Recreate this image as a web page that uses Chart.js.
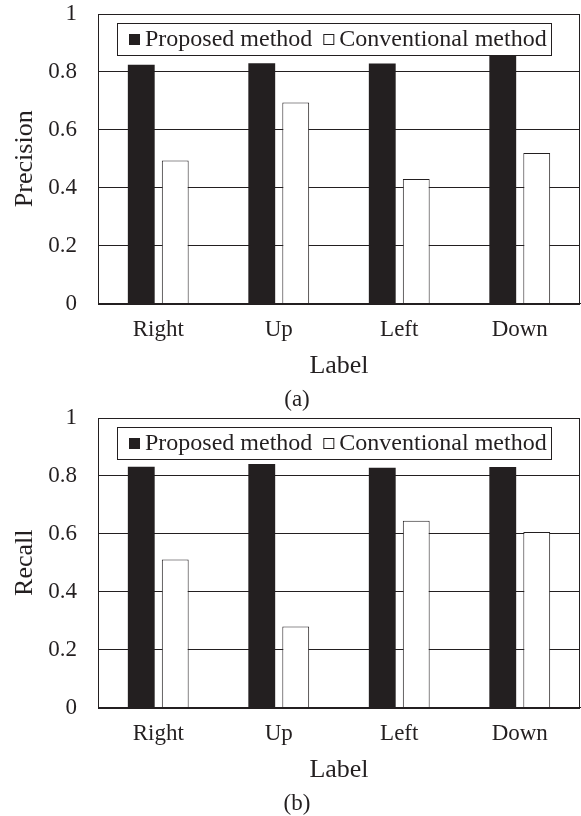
<!DOCTYPE html>
<html>
<head>
<meta charset="utf-8">
<script src="https://cdn.jsdelivr.net/npm/chart.js@4"></script>
<style>
  html, body { margin: 0; padding: 0; background: #fff; }
  body { width: 581px; height: 816px; position: relative; overflow: hidden; font-family: "Liberation Serif", "Times New Roman", serif; }
  canvas { position: absolute; left: 0; }
  #c1 { top: 0; }
  #c2 { top: 404px; }
  .cap { position: absolute; left: 0; width: 594px; text-align: center; font-size: 23px; line-height: 26px; color: #231f20; }
</style>
</head>
<body>
<canvas id="c1" width="581" height="404"></canvas>
<canvas id="c2" width="581" height="404"></canvas>
<div class="cap" style="top:386px">(a)</div>
<div class="cap" style="top:790px">(b)</div>
<script>
// ---- data ----
const categories = ['Right', 'Up', 'Left', 'Down'];
const seriesNames = ['Proposed method', 'Conventional method'];
const precisionProposed = [0.825, 0.830, 0.829, 0.855];
const precisionConventional = [0.494, 0.694, 0.430, 0.520];
const recallProposed = [0.832, 0.841, 0.828, 0.831];
const recallConventional = [0.511, 0.280, 0.645, 0.606];
const yTickLabels = ['0', '0.2', '0.4', '0.6', '0.8', '1'];
const xAxisTitle = 'Label';

const INK = '#231f20';
const FONT = '"Liberation Serif", "Times New Roman", serif';

const frameAndLegend = {
  id: 'frameAndLegend',
  afterDatasetsDraw(chart) {
    const ctx = chart.ctx;
    const a = chart.chartArea;
    ctx.save();
    // plot frame
    ctx.strokeStyle = INK;
    ctx.lineWidth = 1;
    ctx.strokeRect(Math.round(a.left) + 0.5, Math.round(a.top) + 0.5, Math.round(a.right - a.left) - 1, Math.round(a.bottom - a.top));
    // legend inside plot area
    ctx.font = '24px ' + FONT;
    ctx.textBaseline = 'middle';
    ctx.textAlign = 'left';
    const ds = chart.data.datasets;
    const boxL = Math.round(a.left) + 19, boxT = Math.round(a.top) + 9, boxH = 32;
    const sq = 11, gapT = 5, gapItem = 11, padL = 12, padR = 4;
    let w = padL;
    ds.forEach((d, i) => {
      w += sq + gapT + ctx.measureText(d.label).width;
      if (i < ds.length - 1) w += gapItem;
    });
    w += padR;
    ctx.fillStyle = '#fff';
    ctx.fillRect(boxL, boxT, w, boxH);
    ctx.strokeStyle = INK;
    ctx.strokeRect(boxL + 0.5, boxT + 0.5, Math.round(w), boxH);
    const cy = boxT + boxH / 2 + 0.5;
    let x = boxL + padL;
    ds.forEach((d, i) => {
      ctx.fillStyle = d.backgroundColor;
      ctx.fillRect(x, Math.round(cy - sq / 2), sq, sq);
      if (d.backgroundColor === '#ffffff') {
        ctx.strokeStyle = INK;
        ctx.strokeRect(x + 0.5, Math.round(cy - sq / 2) + 0.5, sq - 1, sq - 1);
      }
      x += sq + gapT;
      ctx.fillStyle = INK;
      ctx.fillText(d.label, x, cy);
      x += ctx.measureText(d.label).width + gapItem;
    });
    ctx.restore();
  }
};

function makeChart(id, yTitle, proposed, conventional) {
  return new Chart(document.getElementById(id), {
    type: 'bar',
    data: {
      labels: categories,
      datasets: [
        { label: seriesNames[0], data: proposed, backgroundColor: INK, borderColor: INK, borderWidth: 0,
          categoryPercentage: 0.564, barPercentage: 0.79 },
        { label: seriesNames[1], data: conventional, backgroundColor: '#ffffff', borderColor: INK, borderWidth: 1,
          categoryPercentage: 0.564, barPercentage: 0.79 }
      ]
    },
    options: {
      responsive: false,
      animation: false,
      devicePixelRatio: 1,
      layout: { padding: { top: 14, right: 1, left: 0, bottom: 0 } },
      plugins: { legend: { display: false }, tooltip: { enabled: false }, title: { display: false } },
      scales: {
        x: {
          grid: { display: false, drawTicks: false },
          border: { display: true, color: INK, width: 1 },
          ticks: { color: INK, padding: 13.2, font: { family: FONT, size: 23, lineHeight: 1.15 } },
          title: { display: true, text: xAxisTitle, color: INK, font: { family: FONT, size: 26 }, padding: { top: 0, bottom: 22.2 } },
          afterFit(s) { s.height = 100.5; }
        },
        y: {
          min: 0, max: 1,
          grid: { color: INK, lineWidth: 1, drawTicks: true, tickLength: 21, tickColor: 'rgba(0,0,0,0)' },
          border: { display: true, color: INK, width: 1 },
          ticks: { stepSize: 0.2, color: INK, padding: 0, font: { family: FONT, size: 23, lineHeight: 1.1 },
                   callback: (v, i) => yTickLabels[i] },
          title: { display: true, text: yTitle, color: INK, font: { family: FONT, size: 26 }, padding: { top: 9.9, bottom: 0 } },
          afterFit(s) { s.width = 98; }
        }
      }
    },
    plugins: [frameAndLegend]
  });
}

makeChart('c1', 'Precision', precisionProposed, precisionConventional);
makeChart('c2', 'Recall', recallProposed, recallConventional);
</script>
</body>
</html>
